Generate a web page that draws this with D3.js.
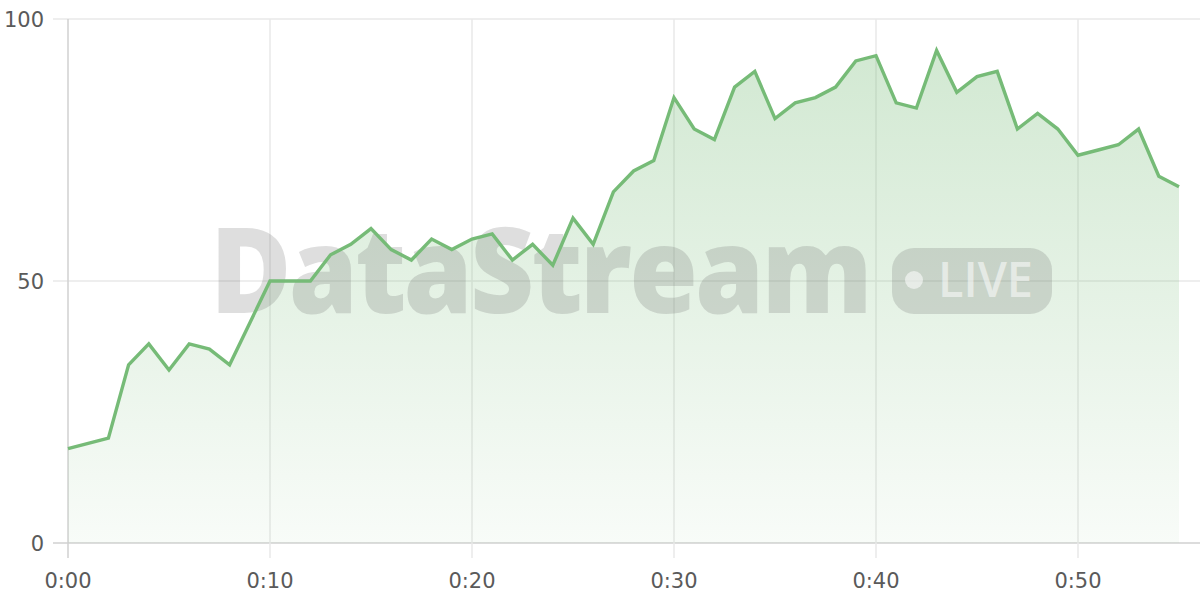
<!DOCTYPE html>
<html>

<head>
  <meta charset="utf-8">
  <title>DataStream</title>
  <style>
    html, body { margin: 0; padding: 0; background: #fff; }
    svg { display: block; }
  </style>
</head>

<body>

  <svg id="main" width="1200" height="600"></svg>

  <script src="https://cdn.jsdelivr.net/npm/d3@7/dist/d3.min.js"></script>
  <script>

    // minutes since start, one reading per minute
    const minutes = d3.range(0, 56)
    const values = [
      18, 19, 20, 34, 38, 33, 38, 37, 34, 42,
      50, 50, 50, 55, 57, 60, 56, 54, 58, 56,
      58, 59, 54, 57, 53, 62, 57, 67, 71, 73,
      85, 79, 77, 87, 90, 81, 84, 85, 87, 92,
      93, 84, 83, 94, 86, 89, 90, 79, 82, 79,
      74, 75, 76, 79, 70, 68
    ]
    const xTicks = [0, 10, 20, 30, 40, 50]
    const xTickLabels = ['0:00', '0:10', '0:20', '0:30', '0:40', '0:50']
    const yTicks = [0, 50, 100]

    const svg = d3.select('#main')
    const width = +svg.attr('width')
    const height = +svg.attr('height')
    const margin = { top: 19, right: 21, bottom: 57, left: 68 }

    const config = {
      line: '#76bb77',
      grid: '#e8e8e8',
      axis: '#d0d0d0',
      tickTxt: { fontSize: '21px', color: '#5a5a5a' },
      font: '"DejaVu Sans", sans-serif'
    }

    const data = minutes.map((m, i) => ({ m, v: values[i] }))

    const x = d3.scaleLinear()
      .domain([0, 55])
      .range([margin.left, width - margin.right])

    const y = d3.scaleLinear()
      .domain([0, 100])
      .range([height - margin.bottom, margin.top])

    // gradient for the area
    const defs = svg.append('defs')
    const grad = defs.append('linearGradient')
      .attr('id', 'areaFill')
      .attr('gradientUnits', 'userSpaceOnUse')
      .attr('x1', 0).attr('x2', 0)
      .attr('y1', y(d3.max(values))).attr('y2', y(0))
    grad.append('stop').attr('offset', '0%').attr('stop-color', config.line).attr('stop-opacity', 0.33)
    grad.append('stop').attr('offset', '100%').attr('stop-color', config.line).attr('stop-opacity', 0.05)

    // grid lines
    const grid = svg.append('g')
    grid.selectAll('.hgrid')
      .data(yTicks)
      .join('line')
      .attr('x1', margin.left - 15)
      .attr('x2', width)
      .attr('y1', d => y(d))
      .attr('y2', d => y(d))
      .attr('stroke', d => d === 0 ? config.axis : config.grid)
      .attr('stroke-width', 1.5)

    grid.selectAll('.vgrid')
      .data(xTicks)
      .join('line')
      .attr('x1', d => x(d))
      .attr('x2', d => x(d))
      .attr('y1', margin.top)
      .attr('y2', height - margin.bottom + 15)
      .attr('stroke', d => d === 0 ? config.axis : config.grid)
      .attr('stroke-width', 1.5)

    // area + line
    const area = d3.area()
      .x(d => x(d.m))
      .y0(y(0))
      .y1(d => y(d.v))

    const line = d3.line()
      .x(d => x(d.m))
      .y(d => y(d.v))

    svg.append('path')
      .datum(data)
      .attr('fill', 'url(#areaFill)')
      .attr('d', area)

    // watermark
    const wm = svg.append('g').attr('fill', 'rgb(105,105,105)').attr('fill-opacity', 0.22)
    wm.append('text')
      .text('DataStream')
      .attr('x', 210)
      .attr('y', 313)
      .attr('font-family', '"Open Sans", Lato, sans-serif')
      .attr('font-weight', 800)
      .attr('font-size', 118)
      .attr('textLength', 660)
      .attr('lengthAdjust', 'spacingAndGlyphs')
      .attr('letter-spacing', -3)
    wm.append('rect')
      .attr('x', 892).attr('y', 248)
      .attr('width', 160).attr('height', 66)
      .attr('rx', 22)
    const badge = svg.append('g').attr('fill', '#fff').attr('fill-opacity', 0.55)
    badge.append('circle').attr('cx', 914).attr('cy', 280).attr('r', 9)
    badge.append('text')
      .text('LIVE')
      .attr('x', 938)
      .attr('y', 297)
      .attr('font-family', '"Open Sans", Lato, sans-serif')
      .attr('font-weight', 600)
      .attr('font-size', 48)
      .attr('textLength', 95)
      .attr('lengthAdjust', 'spacingAndGlyphs')

    svg.append('path')
      .datum(data)
      .attr('fill', 'none')
      .attr('stroke', config.line)
      .attr('stroke-width', 3.4)
      .attr('stroke-linejoin', 'miter')
      .attr('d', line)

    // tick labels
    svg.append('g')
      .selectAll('text')
      .data(yTicks)
      .join('text')
      .text(d => d)
      .attr('x', margin.left - 24)
      .attr('y', d => y(d))
      .attr('dy', '0.36em')
      .attr('text-anchor', 'end')
      .attr('font-family', config.font)
      .attr('font-size', config.tickTxt.fontSize)
      .attr('fill', config.tickTxt.color)

    svg.append('g')
      .selectAll('text')
      .data(xTicks)
      .join('text')
      .text((d, i) => xTickLabels[i])
      .attr('x', d => x(d))
      .attr('y', 588)
      .attr('text-anchor', 'middle')
      .attr('font-family', config.font)
      .attr('font-size', config.tickTxt.fontSize)
      .attr('fill', config.tickTxt.color)

  </script>
</body>

</html>
